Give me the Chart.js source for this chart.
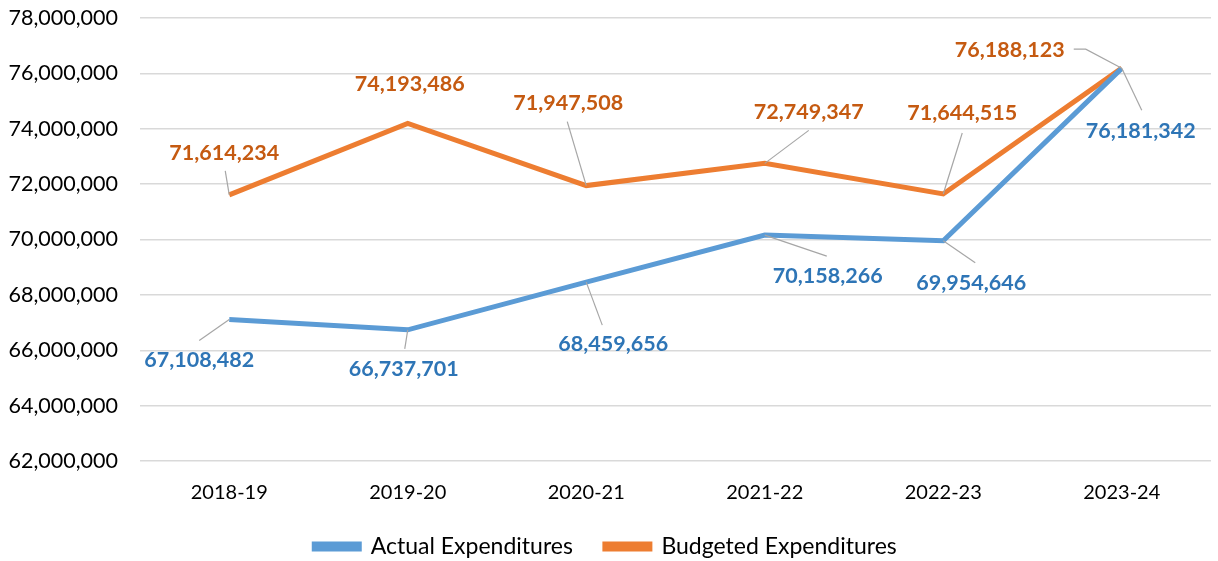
<!DOCTYPE html>
<html>
<head>
<meta charset="utf-8">
<script src="https://cdn.jsdelivr.net/npm/chart.js@4/dist/chart.umd.min.js"></script>
<style>
  html, body { margin: 0; padding: 0; background: #ffffff; }
  #wrap { width: 1218px; height: 561px; position: relative; }
</style>
</head>
<body>
<div id="wrap"><canvas id="myChart"></canvas></div>
<script>
const fiscalYears = ["2018-19", "2019-20", "2020-21", "2021-22", "2022-23", "2023-24"];
const actualExpenditures = [67108482, 66737701, 68459656, 70158266, 69954646, 76181342];
const budgetedExpenditures = [71614234, 74193486, 71947508, 72749347, 71644515, 76188123];

const FONT = "Lato, 'Open Sans', sans-serif";

// where each data label sits relative to its point (px), plus leader line points
const actualLabelLayout = [
    { dx: -30, dy: 41, leader: [[-30, 21]] },
    { dx: -4, dy: 39, leader: [[-3, 19]] },
    { dx: 27, dy: 62, leader: [[16, 43]] },
    { dx: 63, dy: 41, leader: [[62, 21]] },
    { dx: 28, dy: 42, leader: [[32, 22]] },
    { dx: 19, dy: 63, leader: [[20, 42]] }
];
const budgetedLabelLayout = [
    { dx: -5, dy: -42, leader: [[-4, -24]] },
    { dx: 2, dy: -39, leader: null },
    { dx: -18, dy: -83, leader: [[-19, -64]] },
    { dx: 44, dy: -51, leader: [[44, -33]] },
    { dx: 19, dy: -81, leader: [[19, -61]] },
    { dx: -112, dy: -18, leader: [[-36, -19], [-48, -19]] }
];

const leaderLabels = {
    id: "leaderLabels",
    afterDatasetsDraw(chart) {
        const ctx = chart.ctx;
        const layouts = [actualLabelLayout, budgetedLabelLayout];
        const textColors = ["#2E75B6", "#C55A11"];
        chart.data.datasets.forEach((ds, i) => {
            const meta = chart.getDatasetMeta(i);
            meta.data.forEach((pt, j) => {
                const lay = layouts[i][j];
                ctx.save();
                if (lay.leader) {
                    ctx.strokeStyle = "#A6A6A6";
                    ctx.lineWidth = 1.2;
                    ctx.beginPath();
                    ctx.moveTo(pt.x, pt.y);
                    lay.leader.forEach(p => ctx.lineTo(pt.x + p[0], pt.y + p[1]));
                    ctx.stroke();
                }
                ctx.fillStyle = textColors[i];
                ctx.font = "bold 21.5px " + FONT;
                ctx.textAlign = "center";
                ctx.textBaseline = "middle";
                ctx.fillText(ds.data[j].toLocaleString("en-US"), pt.x + lay.dx, pt.y + lay.dy);
                ctx.restore();
            });
        });
    }
};

const ctx = document.getElementById("myChart").getContext("2d");
const chart = new Chart(ctx, {
    type: "line",
    data: {
        labels: fiscalYears,
        datasets: [
            {
                label: "Actual Expenditures",
                data: actualExpenditures,
                borderColor: "#5B9BD5",
                backgroundColor: "#5B9BD5",
                borderWidth: 5,
                pointRadius: 0,
                tension: 0
            },
            {
                label: "Budgeted Expenditures",
                data: budgetedExpenditures,
                borderColor: "#ED7D31",
                backgroundColor: "#ED7D31",
                borderWidth: 5,
                pointRadius: 0,
                tension: 0
            }
        ]
    },
    options: {
        responsive: true,
        maintainAspectRatio: false,
        animation: false,
        layout: { padding: { top: 18, right: 7, left: 0, bottom: -7 } },
        scales: {
            x: {
                offset: true,
                grid: { display: false, drawTicks: false },
                border: { display: false },
                ticks: { color: "#000000", font: { family: FONT, size: 20 }, padding: 20 },
                afterFit(scale) { scale.height = 42; }
            },
            y: {
                min: 62000000,
                max: 78000000,
                grid: { color: "#D9D9D9", lineWidth: 1.5, drawTicks: true, tickLength: 22, tickColor: "rgba(0,0,0,0)" },
                border: { display: false },
                ticks: {
                    stepSize: 2000000,
                    color: "#000000",
                    font: { family: FONT, size: 21.5 },
                    padding: 0,
                    callback: v => v.toLocaleString("en-US")
                },
                afterFit(scale) { scale.width = 140; }
            }
        },
        plugins: {
            legend: {
                position: "bottom",
                labels: {
                    color: "#000000",
                    font: { family: FONT, size: 23 },
                    boxWidth: 45,
                    boxHeight: 5,
                    padding: 32
                }
            },
            tooltip: { enabled: false }
        }
    },
    plugins: [leaderLabels]
});
</script>
</body>
</html>
